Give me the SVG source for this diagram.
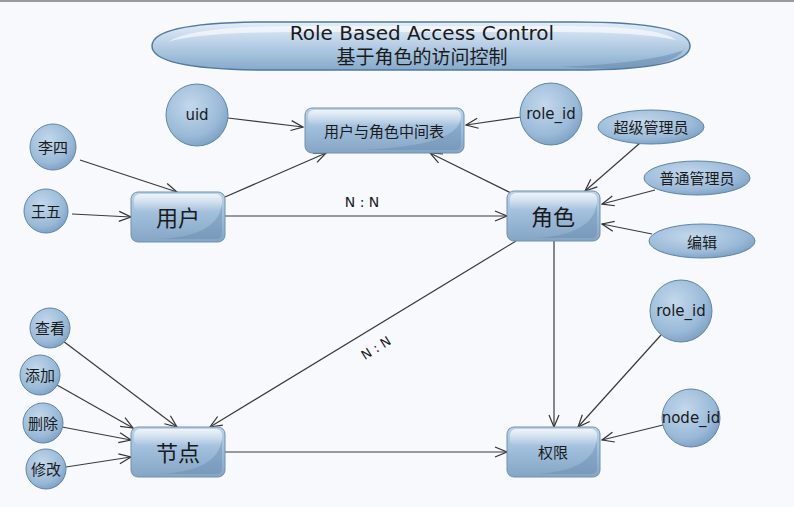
<svg xmlns="http://www.w3.org/2000/svg" width="794" height="507" viewBox="0 0 794 507">
<defs>
  <linearGradient id="gRect" x1="0" y1="0" x2="0" y2="1">
    <stop offset="0" stop-color="#BDD4E9"/>
    <stop offset="0.5" stop-color="#9DBCDA"/>
    <stop offset="1" stop-color="#85A5C4"/>
  </linearGradient>
  <radialGradient id="gCirc" cx="0.4" cy="0.35" r="0.7">
    <stop offset="0" stop-color="#C3D8EC"/>
    <stop offset="0.7" stop-color="#9ABAD8"/>
    <stop offset="1" stop-color="#7B9EC2"/>
  </radialGradient>
  <linearGradient id="gTitle" x1="0" y1="0" x2="0" y2="1">
    <stop offset="0" stop-color="#E4EEF8"/>
    <stop offset="0.45" stop-color="#B9D0E7"/>
    <stop offset="1" stop-color="#86AACB"/>
  </linearGradient>
  <linearGradient id="gHi" x1="0" y1="0" x2="0" y2="1">
    <stop offset="0" stop-color="#FFFFFF" stop-opacity="0.75"/>
    <stop offset="1" stop-color="#FFFFFF" stop-opacity="0"/>
  </linearGradient>
  <marker id="arr" markerWidth="14" markerHeight="12" refX="13" refY="6" orient="auto" markerUnits="userSpaceOnUse">
    <path d="M1,1 L13,6 L1,11" fill="none" stroke="#333" stroke-width="1.2"/>
  </marker>
  <style>
    .rect { fill: url(#gRect); stroke: #6F90B0; stroke-width: 1; }
    .circ { fill: url(#gCirc); stroke: #5F86AA; stroke-width: 1; }
    .hi { fill: url(#gHi); }
    .shade { fill: #5F82A6; opacity: 0.35; }
    .t { font-family: "Liberation Sans", "Noto Sans CJK SC", sans-serif; fill: #1a1a1a; text-anchor: middle; dominant-baseline: central; }
    .lat { font-family: "DejaVu Sans", "Liberation Sans", sans-serif; }
    .big { font-size: 22px; }
    .mid { font-size: 15px; }
    .sm { font-size: 15px; }
    .conn line { stroke: #3a3a3a; stroke-width: 1.2; marker-end: url(#arr); }
  </style>
</defs>
<rect x="0" y="0" width="794" height="507" fill="#F7F9FD"/>
<rect x="0" y="0" width="794" height="2" fill="#9A9A9A"/>

<g id="title">
  <path d="M152,46 C152,28 200,22 270,22 L575,22 C650,22 690,30 690,46 C690,62 650,70 575,70 L270,70 C200,70 152,64 152,46 Z" fill="url(#gTitle)" stroke="#4F7AA3" stroke-width="1.5"/>
  <path d="M168,42 Q190,26 300,26 L560,26 Q660,26 676,40 Q640,32 560,32 L300,32 Q200,32 168,42 Z" fill="#FFFFFF" opacity="0.6"/>
  <path d="M560,67 Q650,63 684,50 Q672,66 620,69 Z" fill="#5F82A6" opacity="0.45"/>
  <text class="t lat" x="422" y="33" font-size="20">Role Based Access Control</text>
  <text class="t" x="422" y="57" font-size="19">基于角色的访问控制</text>
</g>

<g class="conn" id="connectors">
  <line x1="228" y1="118" x2="303" y2="127"/>
  <line x1="521" y1="117" x2="466" y2="125"/>
  <line x1="225" y1="197" x2="326" y2="153"/>
  <line x1="511" y1="193" x2="430" y2="153"/>
  <line x1="80" y1="160" x2="177" y2="192"/>
  <line x1="72" y1="214" x2="131" y2="217"/>
  <line x1="225" y1="216" x2="507" y2="216"/>
  <line x1="640" y1="143" x2="585" y2="191"/>
  <line x1="655" y1="190" x2="602" y2="204"/>
  <line x1="652" y1="234" x2="602" y2="224"/>
  <line x1="516" y1="241" x2="210" y2="427"/>
  <line x1="554" y1="241" x2="554" y2="427"/>
  <line x1="661" y1="335" x2="578" y2="427"/>
  <line x1="663" y1="425" x2="602" y2="440"/>
  <line x1="225" y1="452" x2="507" y2="452"/>
  <line x1="63" y1="341" x2="177" y2="427"/>
  <line x1="57" y1="385" x2="133" y2="428"/>
  <line x1="62" y1="427" x2="131" y2="440"/>
  <line x1="66" y1="467" x2="131" y2="457"/>
  <text class="t lat" x="362" y="202" font-size="14" fill="#333">N : N</text>
  <text class="t lat" x="376" y="348" font-size="13" transform="rotate(-32 376 348)">N : N</text>
</g>

<g id="n-mid">
  <rect class="rect" x="305" y="108" width="159" height="45" rx="7"/>
  <rect class="hi" x="308" y="110" width="153" height="16" rx="6"/>
  <path class="shade" d="M461,118 Q458,146 360,150 L455,150 Q461,150 461,144 Z"/>
  <text class="t sm" x="384" y="131">用户与角色中间表</text>
</g>
<g id="n-user">
  <rect class="rect" x="131" y="192" width="94" height="50" rx="7"/>
  <rect class="hi" x="134" y="194" width="88" height="17" rx="6"/>
  <path class="shade" d="M222,204 Q218,236 160,239 L216,239 Q222,239 222,233 Z"/>
  <text class="t big" x="178" y="218">用户</text>
</g>
<g id="n-role">
  <rect class="rect" x="507" y="191" width="93" height="50" rx="7"/>
  <rect class="hi" x="510" y="193" width="87" height="17" rx="6"/>
  <path class="shade" d="M597,203 Q593,235 536,238 L591,238 Q597,238 597,232 Z"/>
  <text class="t big" x="553" y="217">角色</text>
</g>
<g id="n-node">
  <rect class="rect" x="131" y="427" width="94" height="50" rx="7"/>
  <rect class="hi" x="134" y="429" width="88" height="17" rx="6"/>
  <path class="shade" d="M222,439 Q218,471 160,474 L216,474 Q222,474 222,468 Z"/>
  <text class="t big" x="178" y="453">节点</text>
</g>
<g id="n-perm">
  <rect class="rect" x="507" y="427" width="93" height="50" rx="7"/>
  <rect class="hi" x="510" y="429" width="87" height="17" rx="6"/>
  <path class="shade" d="M597,439 Q593,471 536,474 L591,474 Q597,474 597,468 Z"/>
  <text class="t mid" x="553" y="452">权限</text>
</g>

<g id="c-uid">
  <circle class="circ" cx="197" cy="115" r="31"/>
  <text class="t lat mid" x="197" y="115">uid</text>
</g>
<g id="c-roleid1">
  <circle class="circ" cx="551" cy="114" r="31"/>
  <text class="t lat mid" x="551" y="114">role_id</text>
</g>
<g id="c-roleid2">
  <circle class="circ" cx="681" cy="311" r="31"/>
  <text class="t lat mid" x="681" y="311">role_id</text>
</g>
<g id="c-nodeid">
  <circle class="circ" cx="691" cy="418" r="29"/>
  <text class="t lat mid" x="691" y="418">node_id</text>
</g>
<g id="e-super">
  <ellipse class="circ" cx="651" cy="127" rx="53" ry="17"/>
  <text class="t sm" x="651" y="127">超级管理员</text>
</g>
<g id="e-normal">
  <ellipse class="circ" cx="697" cy="178" rx="53" ry="17"/>
  <text class="t sm" x="697" y="178">普通管理员</text>
</g>
<g id="e-edit">
  <ellipse class="circ" cx="702" cy="241" rx="53" ry="17"/>
  <text class="t sm" x="702" y="242">编辑</text>
</g>
<g id="c-lisi">
  <circle class="circ" cx="53" cy="147" r="23"/>
  <text class="t sm" x="53" y="147">李四</text>
</g>
<g id="c-wangwu">
  <circle class="circ" cx="46" cy="211" r="22"/>
  <text class="t sm" x="46" y="211">王五</text>
</g>
<g id="c-view">
  <circle class="circ" cx="50" cy="328" r="20"/>
  <text class="t sm" x="50" y="328">查看</text>
</g>
<g id="c-add">
  <circle class="circ" cx="40" cy="375" r="20"/>
  <text class="t sm" x="40" y="375">添加</text>
</g>
<g id="c-del">
  <circle class="circ" cx="43" cy="423" r="20"/>
  <text class="t sm" x="43" y="423">删除</text>
</g>
<g id="c-mod">
  <circle class="circ" cx="46" cy="469" r="20"/>
  <text class="t sm" x="46" y="469">修改</text>
</g>
</svg>
